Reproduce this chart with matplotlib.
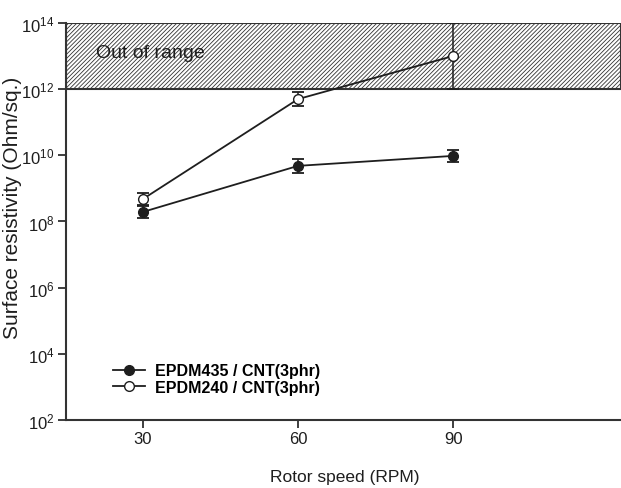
import matplotlib
matplotlib.use("Agg")
import matplotlib.pyplot as plt
from matplotlib.lines import Line2D
import numpy as np

plt.rcParams['font.family'] = ['Liberation Sans', 'DejaVu Sans']
plt.rcParams['mathtext.fontset'] = 'custom'
plt.rcParams['mathtext.rm'] = 'Liberation Sans'
plt.rcParams['hatch.linewidth'] = 0.6
plt.rcParams['hatch.color'] = '#333333'

# data
rpm = [30, 60, 90]
epdm435 = [1.95e8, 4.8e9, 9.6e9]
epdm435_err = [0.18, 0.21, 0.19]      # half-height of error bar in decades
epdm240 = [4.8e8, 5.0e11, 1.0e13]
epdm240_err = [0.17, 0.21, 1.0]
labels = ['EPDM435 / CNT(3phr)', 'EPDM240 / CNT(3phr)']
yticks = [1e2, 1e4, 1e6, 1e8, 1e10, 1e12, 1e14]


def log_err(vals, dec):
    v = np.array(vals)
    d = np.array(dec)
    return [v - v * 10 ** (-d), v * 10 ** d - v]


ink = '#1e1e1e'
fig = plt.figure(figsize=(6.21, 4.89), dpi=100)
ax = fig.add_axes([0.1055, 0.139, 0.8945, 0.812])
ax.set_yscale('log')
ax.set_xlim(15, 122.5)
ax.set_ylim(1e2, 1e14)

ax.axhspan(1e12, 1e14, facecolor='white', edgecolor='#333333', hatch='////////',
           linewidth=1.5, zorder=1)
ax.text(20.9, 1.3e13, 'Out of range', fontsize=14, va='center', ha='left', color=ink,
        zorder=2)

ax.errorbar(rpm, epdm435, yerr=log_err(epdm435, epdm435_err), color=ink,
            marker='o', markersize=7, markerfacecolor=ink, linewidth=1.3,
            capsize=4, elinewidth=1.1, capthick=1.3, zorder=3)
ax.errorbar(rpm, epdm240, yerr=log_err(epdm240, epdm240_err), color=ink,
            marker='o', markersize=7, markerfacecolor='white', linewidth=1.3,
            capsize=4, elinewidth=1.1, capthick=1.3, zorder=3)

ax.set_xticks(rpm)
ax.set_yticks(yticks)
ax.yaxis.set_minor_locator(matplotlib.ticker.NullLocator())
ax.tick_params(axis='both', direction='out', length=6, width=1.2, labelsize=12,
               colors=ink)
ax.tick_params(axis='x', pad=2)
ax.tick_params(axis='y', pad=2)
for s in ['top', 'right']:
    ax.spines[s].set_visible(False)
for s in ['left', 'bottom']:
    ax.spines[s].set_linewidth(1.5)
    ax.spines[s].set_color('#333333')

ax.set_xlabel('Rotor speed (RPM)', fontsize=12.5, color=ink)
ax.xaxis.set_label_coords(0.502, -0.143)
ax.xaxis.label.set_va('center')
ax.set_ylabel('Surface resistivity (Ohm/sq.)', fontsize=15, color=ink)
ax.yaxis.set_label_coords(-0.096, 0.538)
ax.yaxis.label.set_va('center')

handles = [Line2D([], [], color=ink, marker='o', markersize=7, markerfacecolor=ink, linewidth=1.3),
           Line2D([], [], color=ink, marker='o', markersize=7, markerfacecolor='white', linewidth=1.3)]
ax.legend(handles, labels, loc='center left', bbox_to_anchor=(0.06, 0.103), frameon=False,
          prop={'size': 11.5, 'weight': 'bold'}, handlelength=2.0,
          handletextpad=0.6, labelspacing=0.1)

fig.savefig('out.png', dpi=100)
